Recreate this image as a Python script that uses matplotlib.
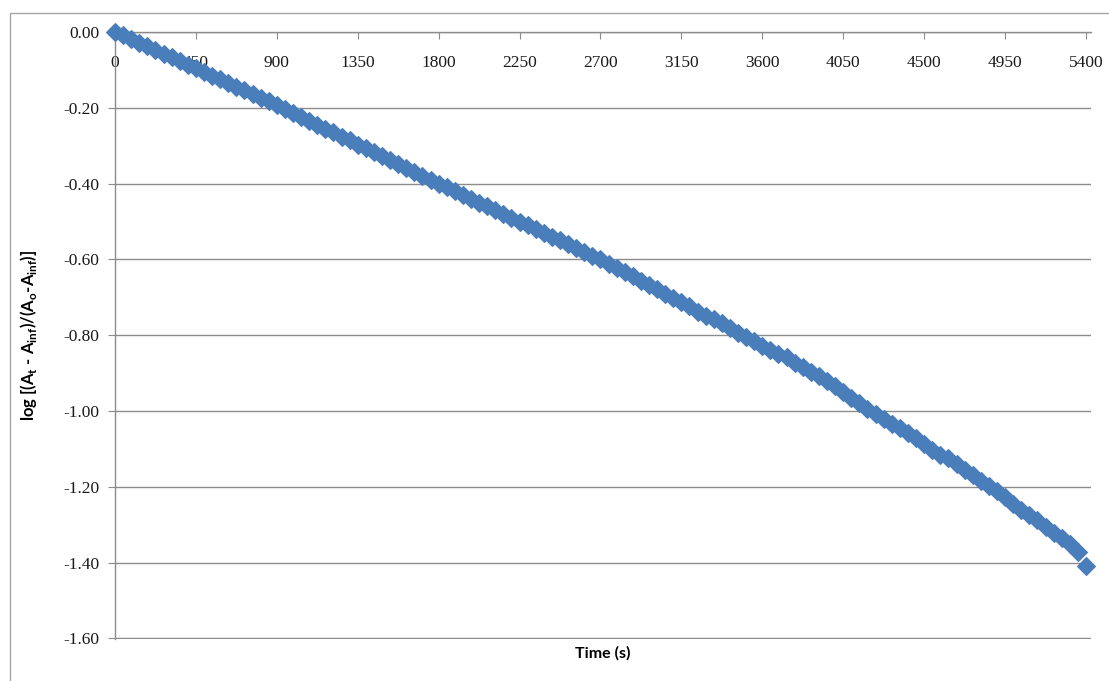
import matplotlib.pyplot as plt
from matplotlib.patches import Rectangle

plt.rcParams["mathtext.fontset"] = "custom"
plt.rcParams["mathtext.rm"] = "Lato:bold"

# ── Data ──────────────────────────────────────────────────────────────────────
time_s = [
    0, 45, 90, 135, 180, 225, 270, 315, 360, 405, 450, 495, 540, 585, 630,
    675, 720, 765, 810, 855, 900, 945, 990, 1035, 1080, 1125, 1170, 1215,
    1260, 1305, 1350, 1395, 1440, 1485, 1530, 1575, 1620, 1665, 1710, 1755,
    1800, 1845, 1890, 1935, 1980, 2025, 2070, 2115, 2160, 2205, 2250, 2295,
    2340, 2385, 2430, 2475, 2520, 2565, 2610, 2655, 2700, 2745, 2790, 2835,
    2880, 2925, 2970, 3015, 3060, 3105, 3150, 3195, 3240, 3285, 3330, 3375,
    3420, 3465, 3510, 3555, 3600, 3645, 3690, 3735, 3780, 3825, 3870, 3915,
    3960, 4005, 4050, 4095, 4140, 4185, 4230, 4275, 4320, 4365, 4410, 4455,
    4500, 4545, 4590, 4635, 4680, 4725, 4770, 4815, 4860, 4905, 4950, 4995,
    5040, 5085, 5130, 5175, 5220, 5265, 5310, 5355, 5400,
]
log_ratio = [
    0.000, -0.009, -0.019, -0.028, -0.038, -0.047, -0.057, -0.066, -0.076,
    -0.086, -0.095, -0.105, -0.115, -0.124, -0.134, -0.144, -0.153, -0.163,
    -0.173, -0.183, -0.193, -0.203, -0.213, -0.224, -0.234, -0.245, -0.255,
    -0.265, -0.276, -0.286, -0.297, -0.307, -0.317, -0.328, -0.338, -0.349,
    -0.359, -0.369, -0.380, -0.390, -0.400, -0.410, -0.420, -0.430, -0.440,
    -0.450, -0.460, -0.470, -0.480, -0.490, -0.500, -0.510, -0.520, -0.530,
    -0.540, -0.550, -0.560, -0.570, -0.580, -0.590, -0.600, -0.611, -0.622,
    -0.634, -0.645, -0.656, -0.668, -0.679, -0.690, -0.702, -0.713, -0.724,
    -0.738, -0.750, -0.756, -0.768, -0.782, -0.794, -0.805, -0.816, -0.828,
    -0.840, -0.850, -0.858, -0.872, -0.884, -0.896, -0.908, -0.922, -0.935,
    -0.950, -0.966, -0.980, -0.994, -1.008, -1.022, -1.035, -1.046, -1.058,
    -1.072, -1.088, -1.103, -1.116, -1.125, -1.140, -1.155, -1.170, -1.185,
    -1.198, -1.212, -1.228, -1.246, -1.262, -1.275, -1.288, -1.305, -1.322,
    -1.336, -1.352, -1.372, -1.408,
]
x_ticks = [0, 450, 900, 1350, 1800, 2250, 2700, 3150, 3600, 4050, 4500, 4950, 5400]
y_ticks = [0.0, -0.2, -0.4, -0.6, -0.8, -1.0, -1.2, -1.4, -1.6]

BLUE = "#4a7ebb"
GRID = "#8c8c8c"
W, H = 1109, 681

# ── Plot ──────────────────────────────────────────────────────────────────────
fig = plt.figure(figsize=(W / 100, H / 100), dpi=100)
ax = fig.add_axes([115 / W, 1 - 639 / H, (1091 - 115) / W, (639 - 32) / H])

ax.plot(time_s, log_ratio, ls="none", marker="D", ms=9.5, color=BLUE,
        mec=BLUE, mew=0.8, clip_on=False, zorder=3)

ax.set_xlim(0, 5428)
ax.set_ylim(-1.6015, 0)
ax.set_xticks(x_ticks)
ax.set_yticks(y_ticks)
ax.set_yticklabels([f"{v:.2f}" for v in y_ticks])

ax.xaxis.tick_top()
ax.tick_params(axis="x", direction="in", length=5, color=GRID, pad=-28,
               labelsize=12.5, labelcolor="#1a1a1a")
ax.tick_params(axis="y", direction="out", length=5, color=GRID, pad=6,
               labelsize=12.5, labelcolor="#1a1a1a")
for lab in ax.get_xticklabels() + ax.get_yticklabels():
    lab.set_fontfamily("Liberation Serif")

ax.yaxis.grid(True, color=GRID, lw=1.0)
ax.set_axisbelow(True)
for side in ("right", "bottom"):
    ax.spines[side].set_visible(False)
for side in ("left", "top"):
    ax.spines[side].set_color(GRID)
    ax.spines[side].set_linewidth(1.0)

ax.set_ylabel(r"log [(A$_{\mathrm{t}}$ - A$_{\mathrm{inf}}$)/(A$_{\mathrm{o}}$-A$_{\mathrm{inf}}$)]",
              fontsize=12, fontweight="bold", fontfamily="Lato")
ax.yaxis.set_label_coords(-76 / (1091 - 115), 0.5)
fig.text(603 / W, 1 - 653 / H, "Time (s)", ha="center", va="center",
         fontsize=11.5, fontweight="bold", fontfamily="Lato")

# chart-area border
fig.patches.append(Rectangle((10 / W, -0.01), 1.05, 1 - 13 / H + 0.01,
                             transform=fig.transFigure, fill=False,
                             ec="#a6a6a6", lw=1.0))

fig.savefig("out.png", dpi=100)
